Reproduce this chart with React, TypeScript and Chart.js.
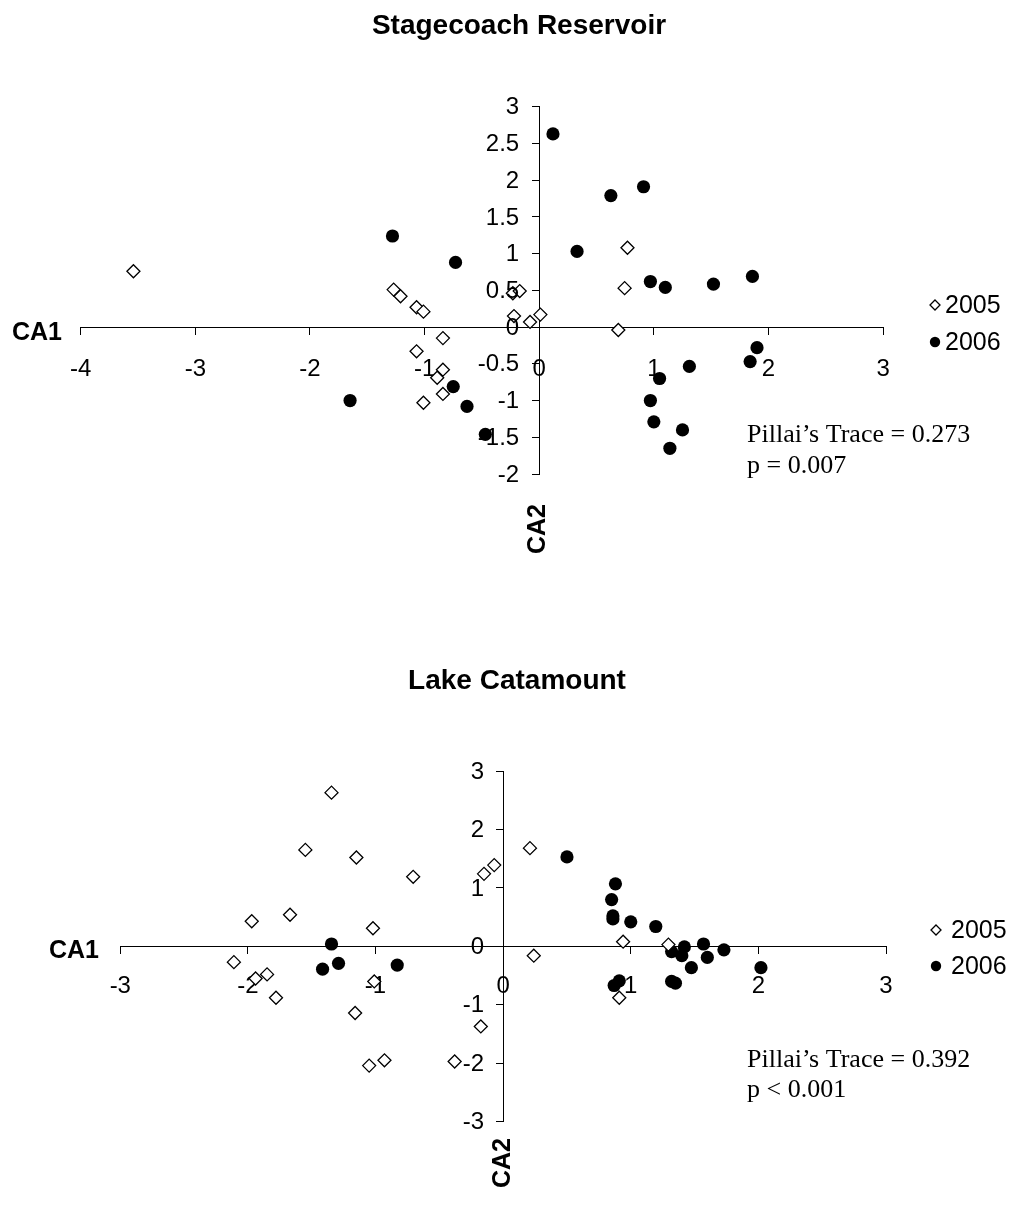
import React, { useEffect, useRef } from "react";
import { Chart, registerables } from "chart.js";

Chart.register(...registerables);

// ---------- Stagecoach Reservoir ----------
const stageTitle = "Stagecoach Reservoir";
const stage2005X = [-3.54, -1.27, -1.21, -1.07, -1.01, -0.84, -1.07, -0.84, -0.89, -0.84, -1.01, -0.23, -0.17, -0.22, -0.08, 0.01, 0.77, 0.745, 0.69];
const stage2005Y = [0.76, 0.51, 0.42, 0.27, 0.21, -0.15, -0.33, -0.58, -0.69, -0.91, -1.03, 0.46, 0.49, 0.15, 0.07, 0.17, 1.08, 0.53, -0.04];
const stage2006X = [0.12, -1.28, -0.73, -1.65, -0.75, -0.63, -0.47, 0.625, 0.91, 0.33, 0.97, 1.1, 1.52, 1.86, 1.9, 1.84, 1.31, 1.05, 0.97, 1.0, 1.25, 1.14];
const stage2006Y = [2.63, 1.24, 0.88, -1.0, -0.81, -1.08, -1.46, 1.79, 1.91, 1.03, 0.62, 0.54, 0.585, 0.69, -0.28, -0.47, -0.535, -0.7, -1.0, -1.29, -1.4, -1.65];
const stageXRange = [-4, 3];
const stageYRange = [-2, 3];
const stageYStep = 0.5;
const stageStats = ["Pillai\u2019s Trace = 0.273", "p = 0.007"];

// ---------- Lake Catamount ----------
const cataTitle = "Lake Catamount";
const cata2005X = [-1.345, -1.55, -1.15, -0.705, -0.15, -0.07, 0.21, -1.97, -1.67, -1.02, -2.11, -1.94, -1.85, -1.78, -1.01, -1.16, -0.175, -1.05, -0.93, -0.38, 0.24, 0.94, 1.295, 0.91];
const cata2005Y = [2.63, 1.65, 1.52, 1.19, 1.24, 1.39, 1.68, 0.43, 0.54, 0.31, -0.27, -0.55, -0.48, -0.88, -0.6, -1.14, -1.37, -2.04, -1.95, -1.97, -0.16, 0.08, 0.03, -0.88];
const cata2006X = [-1.345, -1.29, -1.415, -0.83, 0.5, 0.88, 0.85, 0.86, 0.86, 1.0, 1.196, 1.32, 1.4, 1.42, 1.57, 1.6, 1.73, 1.475, 2.02, 1.32, 1.35, 0.91, 0.87];
const cata2006Y = [0.04, -0.29, -0.39, -0.32, 1.53, 1.07, 0.8, 0.52, 0.47, 0.42, 0.34, -0.09, -0.16, -0.01, 0.04, -0.19, -0.06, -0.365, -0.365, -0.6, -0.63, -0.59, -0.67];
const cataXRange = [-3, 3];
const cataYRange = [-3, 3];
const cataYStep = 1;
const cataStats = ["Pillai\u2019s Trace = 0.392", "p < 0.001"];

const seriesNames = ["2005", "2006"];
const xAxisName = "CA1";
const yAxisName = "CA2";

const SANS = '"Liberation Sans", Arial, sans-serif';
const SERIF = '"Liberation Serif", "Times New Roman", serif';
const TICK_SIZE = 24;

type Layout = {
  top: number;
  height: number;
  padding: { left: number; right: number; top: number; bottom: number };
  xTickPad: number;
  yLabelGap: number;
  titleX: number;
  titleY: number;
  ca1Right: number;
  ca1Base: number;
  ca2X: number;
  ca2Y: number;
  legX: number;
  legTextX: number;
  leg1Y: number;
  leg2Y: number;
  statX: number;
  stat1Y: number;
  stat2Y: number;
};

type PanelProps = {
  title: string;
  x05: number[];
  y05: number[];
  x06: number[];
  y06: number[];
  xRange: number[];
  yRange: number[];
  yStep: number;
  stats: string[];
  layout: Layout;
};

function fmt(v: number) {
  return String(Math.round(v * 100) / 100);
}

function makeOverlay(p: PanelProps) {
  const L = p.layout;
  return {
    id: "overlay",
    afterDraw(chart: any) {
      const ctx: CanvasRenderingContext2D = chart.ctx;
      const xs = chart.scales.x;
      const ys = chart.scales.y;
      ctx.save();
      ctx.fillStyle = "#000";
      ctx.strokeStyle = "#000";
      // y tick labels, placed from the library's y scale
      ctx.font = `${TICK_SIZE}px ${SANS}`;
      ctx.textAlign = "right";
      ctx.textBaseline = "middle";
      const axisX = xs.getPixelForValue(0);
      ys.ticks.forEach((t: any) => {
        ctx.fillText(fmt(t.value), axisX - L.yLabelGap, ys.getPixelForValue(t.value) + 1);
      });
      // title
      ctx.font = `bold 28px ${SANS}`;
      ctx.textAlign = "center";
      ctx.textBaseline = "alphabetic";
      ctx.fillText(p.title, L.titleX, L.titleY);
      // CA1
      ctx.font = `bold 25px ${SANS}`;
      ctx.textAlign = "right";
      ctx.fillText(xAxisName, L.ca1Right, L.ca1Base);
      // CA2 rotated
      ctx.save();
      ctx.translate(L.ca2X, L.ca2Y);
      ctx.rotate(-Math.PI / 2);
      ctx.textAlign = "center";
      ctx.textBaseline = "middle";
      ctx.fillText(yAxisName, 0, 0);
      ctx.restore();
      // legend
      ctx.font = `25px ${SANS}`;
      ctx.textAlign = "left";
      ctx.textBaseline = "middle";
      const d = 5;
      ctx.beginPath();
      ctx.moveTo(L.legX, L.leg1Y - d);
      ctx.lineTo(L.legX + d, L.leg1Y);
      ctx.lineTo(L.legX, L.leg1Y + d);
      ctx.lineTo(L.legX - d, L.leg1Y);
      ctx.closePath();
      ctx.fillStyle = "#fff";
      ctx.fill();
      ctx.lineWidth = 1.3;
      ctx.stroke();
      ctx.fillStyle = "#000";
      ctx.fillText(seriesNames[0], L.legTextX, L.leg1Y + 1);
      ctx.beginPath();
      ctx.arc(L.legX, L.leg2Y, 5.2, 0, Math.PI * 2);
      ctx.fill();
      ctx.fillText(seriesNames[1], L.legTextX, L.leg2Y + 1);
      // stats
      ctx.font = `26px ${SERIF}`;
      ctx.textBaseline = "alphabetic";
      ctx.fillText(p.stats[0], L.statX, L.stat1Y);
      ctx.fillText(p.stats[1], L.statX, L.stat2Y);
      ctx.restore();
    },
  };
}

function ScatterPanel(p: PanelProps) {
  const ref = useRef<HTMLCanvasElement>(null);
  useEffect(() => {
    const canvas = ref.current;
    if (!canvas) return;
    const tickFont = { size: TICK_SIZE, family: SANS };
    const chart = new Chart(canvas, {
      type: "scatter",
      data: {
        datasets: [
          {
            label: seriesNames[0],
            data: p.x05.map((x, i) => ({ x, y: p.y05[i] })),
            pointStyle: "rectRot",
            pointRadius: 6.5,
            backgroundColor: "#fff",
            borderColor: "#000",
            borderWidth: 1.3,
          },
          {
            label: seriesNames[1],
            data: p.x06.map((x, i) => ({ x, y: p.y06[i] })),
            pointStyle: "circle",
            pointRadius: 6.6,
            backgroundColor: "#000",
            borderColor: "#000",
            borderWidth: 0,
          },
        ],
      },
      options: {
        responsive: false,
        animation: false,
        devicePixelRatio: 1,
        layout: { padding: p.layout.padding },
        plugins: {
          legend: { display: false },
          title: { display: false },
          tooltip: { enabled: false },
        },
        scales: {
          x: {
            type: "linear",
            min: p.xRange[0],
            max: p.xRange[1],
            position: { y: 0 } as any,
            ticks: {
              stepSize: 1,
              color: "#000",
              font: tickFont,
              padding: p.layout.xTickPad,
              autoSkip: false,
              maxRotation: 0,
              callback: (v: any) => fmt(Number(v)),
            },
            grid: { display: true, drawOnChartArea: false, drawTicks: true, tickLength: 7, color: "#000", lineWidth: 1 },
            border: { display: true, color: "#000", width: 1 },
          },
          y: {
            type: "linear",
            min: p.yRange[0],
            max: p.yRange[1],
            position: { x: 0 } as any,
            ticks: { stepSize: p.yStep, display: false, autoSkip: false },
            grid: { display: true, drawOnChartArea: false, drawTicks: true, tickLength: 7, color: "#000", lineWidth: 1 },
            border: { display: true, color: "#000", width: 1 },
          },
        },
      },
      plugins: [makeOverlay(p)],
    } as any);
    return () => chart.destroy();
  }, []);
  const L = p.layout;
  return (
    <canvas
      ref={ref}
      width={1014}
      height={L.height}
      style={{ position: "absolute", left: 0, top: L.top, width: 1014, height: L.height, display: "block" }}
    />
  );
}

const stageLayout: Layout = {
  top: 0,
  height: 600,
  padding: { left: 80.7, right: 130.9, top: 106.7, bottom: 126 },
  xTickPad: 21,
  yLabelGap: 20,
  titleX: 519,
  titleY: 34,
  ca1Right: 62,
  ca1Base: 340,
  ca2X: 538,
  ca2Y: 529,
  legX: 935,
  legTextX: 945,
  leg1Y: 305,
  leg2Y: 342,
  statX: 747,
  stat1Y: 442,
  stat2Y: 473,
};

const cataLayout: Layout = {
  top: 600,
  height: 605,
  padding: { left: 120.3, right: 128, top: 171, bottom: 83.3 },
  xTickPad: 19,
  yLabelGap: 19,
  titleX: 517,
  titleY: 89,
  ca1Right: 99,
  ca1Base: 358,
  ca2X: 503,
  ca2Y: 563,
  legX: 936,
  legTextX: 951,
  leg1Y: 330,
  leg2Y: 366,
  statX: 747,
  stat1Y: 467,
  stat2Y: 497,
};

export default function App() {
  return (
    <div style={{ position: "absolute", left: 0, top: 0, width: 1014, height: 1205, background: "#fff" }}>
      <ScatterPanel
        title={stageTitle}
        x05={stage2005X}
        y05={stage2005Y}
        x06={stage2006X}
        y06={stage2006Y}
        xRange={stageXRange}
        yRange={stageYRange}
        yStep={stageYStep}
        stats={stageStats}
        layout={stageLayout}
      />
      <ScatterPanel
        title={cataTitle}
        x05={cata2005X}
        y05={cata2005Y}
        x06={cata2006X}
        y06={cata2006Y}
        xRange={cataXRange}
        yRange={cataYRange}
        yStep={cataYStep}
        stats={cataStats}
        layout={cataLayout}
      />
    </div>
  );
}
